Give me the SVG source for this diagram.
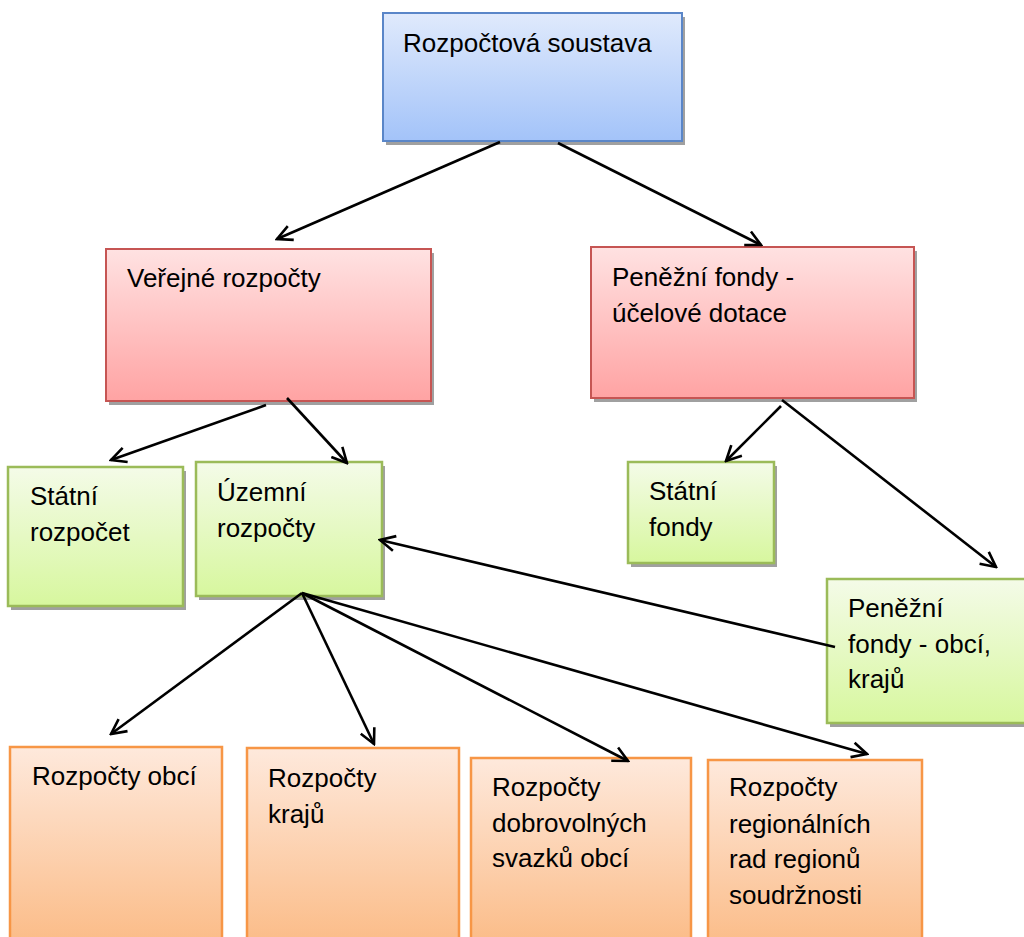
<svg xmlns="http://www.w3.org/2000/svg" width="1024" height="937" viewBox="0 0 1024 937">
<style>
text{font-family:"Liberation Sans",Arial,sans-serif;font-size:26px;fill:#000}
.sh{fill:#a0a0a0}
.blue{fill:url(#gB);stroke:#5a86c8;stroke-width:2}
.red{fill:url(#gR);stroke:#c65553;stroke-width:2}
.green{fill:url(#gG);stroke:#9bbb59;stroke-width:2.5}
.orange{fill:url(#gO);stroke:#f79646;stroke-width:2.5}
.c line{stroke:#000;stroke-width:2.6;marker-end:url(#ah)}
</style>
<defs>
<linearGradient id="gB" x1="0" y1="0" x2="0" y2="1"><stop offset="0" stop-color="#e0eafc"/><stop offset="1" stop-color="#a3c3f9"/></linearGradient>
<linearGradient id="gR" x1="0" y1="0" x2="0" y2="1"><stop offset="0" stop-color="#ffe2e2"/><stop offset="1" stop-color="#ffa3a3"/></linearGradient>
<linearGradient id="gG" x1="0" y1="0" x2="0" y2="1"><stop offset="0" stop-color="#f4fbe8"/><stop offset="1" stop-color="#d7f79e"/></linearGradient>
<linearGradient id="gO" x1="0" y1="0" x2="0" y2="1"><stop offset="0" stop-color="#fee9dc"/><stop offset="1" stop-color="#fbbb86"/></linearGradient>
<marker id="ah" viewBox="0 0 18 18" refX="16" refY="9" markerWidth="18" markerHeight="18" markerUnits="userSpaceOnUse" orient="auto">
<path d="M1,1.5 L16,9 L1,16.5" fill="none" stroke="#000" stroke-width="2.6"/>
</marker>
</defs>
<g id="n-soustava">
<rect class="sh" x="386" y="17" width="299" height="128"/>
<rect class="blue" x="383" y="13" width="299" height="128"/>
<text x="403" y="52">Rozpočtová soustava</text>
</g>
<g id="n-verejne">
<rect class="sh" x="109" y="253" width="325" height="152"/>
<rect class="red" x="106" y="249" width="325" height="152"/>
<text x="127" y="287">Veřejné rozpočty</text>
</g>
<g id="n-penezni">
<rect class="sh" x="594" y="251" width="323" height="151"/>
<rect class="red" x="591" y="247" width="323" height="151"/>
<text x="612" y="286">Peněžní fondy -</text>
<text x="612" y="322">účelové dotace</text>
</g>
<g id="n-statni-rozpocet">
<rect class="sh" x="11" y="471" width="175" height="139"/>
<rect class="green" x="8" y="467" width="175" height="139"/>
<text x="30" y="505">Státní</text>
<text x="30" y="541">rozpočet</text>
</g>
<g id="n-uzemni">
<rect class="sh" x="199" y="466" width="186" height="134"/>
<rect class="green" x="196" y="462" width="186" height="134"/>
<text x="217" y="501">Územní</text>
<text x="217" y="537">rozpočty</text>
</g>
<g id="n-statni-fondy">
<rect class="sh" x="631" y="466" width="146" height="101"/>
<rect class="green" x="628" y="462" width="146" height="101"/>
<text x="649" y="500">Státní</text>
<text x="649" y="536">fondy</text>
</g>
<g id="n-fondy-obci">
<rect class="sh" x="830" y="583" width="203" height="144"/>
<rect class="green" x="827" y="579" width="203" height="144"/>
<text x="848" y="617">Peněžní</text>
<text x="848" y="653">fondy - obcí,</text>
<text x="848" y="688">krajů</text>
</g>
<g id="n-obci">
<rect class="orange" x="10" y="747" width="212" height="200"/>
<text x="32" y="785">Rozpočty obcí</text>
</g>
<g id="n-kraju">
<rect class="orange" x="247" y="748" width="212" height="200"/>
<text x="268" y="787">Rozpočty</text>
<text x="268" y="823">krajů</text>
</g>
<g id="n-svazku">
<rect class="orange" x="471" y="758" width="220" height="190"/>
<text x="492" y="796">Rozpočty</text>
<text x="492" y="832">dobrovolných</text>
<text x="492" y="867">svazků obcí</text>
</g>
<g id="n-regionalnich">
<rect class="orange" x="708" y="760" width="214" height="190"/>
<text x="729" y="796">Rozpočty</text>
<text x="729" y="833">regionálních</text>
<text x="729" y="868">rad regionů</text>
<text x="729" y="904">soudržnosti</text>
</g>
<g id="connectors" class="c">
<line x1="500" y1="142" x2="277" y2="239"/>
<line x1="558" y1="143" x2="761" y2="245"/>
<line x1="266" y1="405" x2="111" y2="460"/>
<line x1="287" y1="398" x2="347" y2="463"/>
<line x1="781" y1="406" x2="726" y2="461"/>
<line x1="782" y1="400" x2="996" y2="567"/>
<line x1="835" y1="647" x2="380" y2="540"/>
<line x1="302" y1="593" x2="111" y2="734"/>
<line x1="302" y1="593" x2="374" y2="744"/>
<line x1="302" y1="593" x2="628" y2="761"/>
<line x1="302" y1="593" x2="867" y2="754"/>
</g>
</svg>
